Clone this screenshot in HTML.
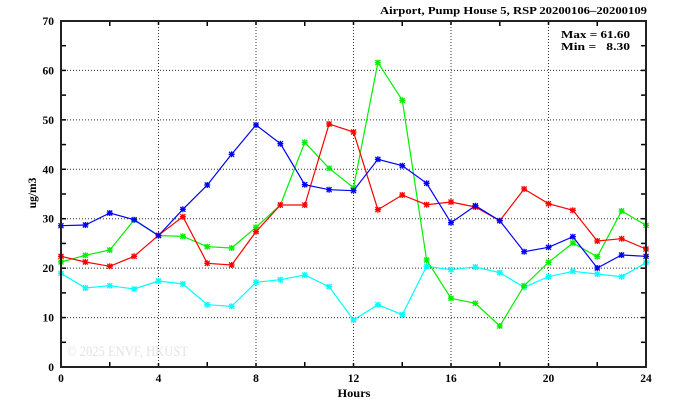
<!DOCTYPE html>
<html><head><meta charset="utf-8"><style>
html,body{margin:0;padding:0;background:#fff;}
svg{display:block;}
text{font-family:"Liberation Serif",serif;font-weight:bold;fill:#000;}
</style></head><body>
<svg id="s" width="674" height="409" viewBox="0 0 674 409" xmlns="http://www.w3.org/2000/svg">
<rect width="674" height="409" fill="#fff"/>
<g id="grid" stroke="#333" stroke-width="1" stroke-dasharray="1 2"></g>
<g id="ticks" stroke="#000" stroke-width="1.5"></g>
<text x="67" y="356" font-size="15" style="font-weight:normal;fill:#e4e4e4" textLength="121" lengthAdjust="spacingAndGlyphs">© 2025  ENVF, HKUST</text>
<g id="series"></g>
<rect x="61" y="21" width="585" height="346" fill="none" stroke="#222" stroke-width="2"/>
<g id="labels" font-size="11.5"></g>
<text x="647" y="14" font-size="11" text-anchor="end" textLength="267" lengthAdjust="spacingAndGlyphs">Airport, Pump House 5, RSP 20200106–20200109</text>
<text x="561" y="38" font-size="11" xml:space="preserve" textLength="69" lengthAdjust="spacingAndGlyphs">Max = 61.60</text>
<text x="561" y="50" font-size="11" xml:space="preserve" textLength="69" lengthAdjust="spacingAndGlyphs">Min =   8.30</text>
<text x="354" y="397" font-size="11.5" text-anchor="middle" textLength="33" lengthAdjust="spacingAndGlyphs">Hours</text>
<text x="0" y="0" font-size="11.5" text-anchor="middle" transform="translate(36,193) rotate(-90)">ug/m3</text>
</svg>
<script>
var NS="http://www.w3.org/2000/svg";
function el(p,t,a){var e=document.createElementNS(NS,t);for(var k in a)e.setAttribute(k,a[k]);p.appendChild(e);return e;}
var X0=61,SX=24.375,Y0=367,SY=4.943;
function px(h){return X0+h*SX;} function py(v){return Y0-v*SY;}
var g=document.getElementById("grid"),tk=document.getElementById("ticks"),lb=document.getElementById("labels");
for(var h=4;h<24;h+=4){el(g,"line",{x1:px(h),y1:21,x2:px(h),y2:367});}
for(var v=10;v<70;v+=10){el(g,"line",{x1:61,y1:py(v),x2:646,y2:py(v)});}
for(var h=2;h<24;h+=2){var L=(h%4==0)?4:5;el(tk,"line",{x1:px(h),y1:367,x2:px(h),y2:367-L});el(tk,"line",{x1:px(h),y1:21,x2:px(h),y2:21+L});}
for(var v=5;v<70;v+=5){el(tk,"line",{x1:61,y1:py(v),x2:66,y2:py(v)});el(tk,"line",{x1:646,y1:py(v),x2:641,y2:py(v)});}
for(var v=0;v<=70;v+=10){var t=el(lb,"text",{x:54,y:py(v)+4,"text-anchor":"end"});t.textContent=v;}
for(var h=0;h<=24;h+=4){var t=el(lb,"text",{x:px(h),y:382,"text-anchor":"middle"});t.textContent=h;}
var S=[
["#00ffff",[273.3,288,285.7,289,281,284,304.7,306.3,282.3,279.7,275,286.7,320,304.7,314.7,266.3,269.7,267,272.7,287.3,276.7,271.3,274,276.7,262.7]],
["#00f000",[262,255.3,250,220,235.6,236.3,246.7,248,227.3,205,142.3,168.3,187.7,62.5,100.3,260,298.3,303.3,326,285.7,262.3,243,256.7,211,225.3]],
["#ff0000",[256.3,262,266.3,256.3,235.3,216.7,263.3,265,231.7,205,205,124,132,209.7,195,204.7,202,207,220.7,189,203.7,210.3,241,238.7,249]],
["#0000ff",[225.7,225,213,219.7,235.6,209.3,185,154.3,125,143.7,184.7,189.7,190.7,159.3,165.7,183.3,222.7,205.7,220.7,251.7,247.3,236.7,268,255,256.3]]
];
var sg=document.getElementById("series");
S.forEach(function(s){
 var c=s[0],ys=s[1],pts=[],d="";
 ys.forEach(function(y,i){pts.push(px(i).toFixed(1)+","+y);});
 el(sg,"polyline",{points:pts.join(" "),fill:"none",stroke:c,"stroke-width":1.2});
 ys.forEach(function(y,i){var x=px(i);
  d+="M"+(x-3)+","+y+"H"+(x+3)+"M"+x+","+(y-3)+"V"+(y+3)+"M"+(x-2.5)+","+(y-2.5)+"L"+(x+2.5)+","+(y+2.5)+"M"+(x-2.5)+","+(y+2.5)+"L"+(x+2.5)+","+(y-2.5);});
 el(sg,"path",{d:d,fill:"none",stroke:c,"stroke-width":1.3});
});
</script>
</body></html>
